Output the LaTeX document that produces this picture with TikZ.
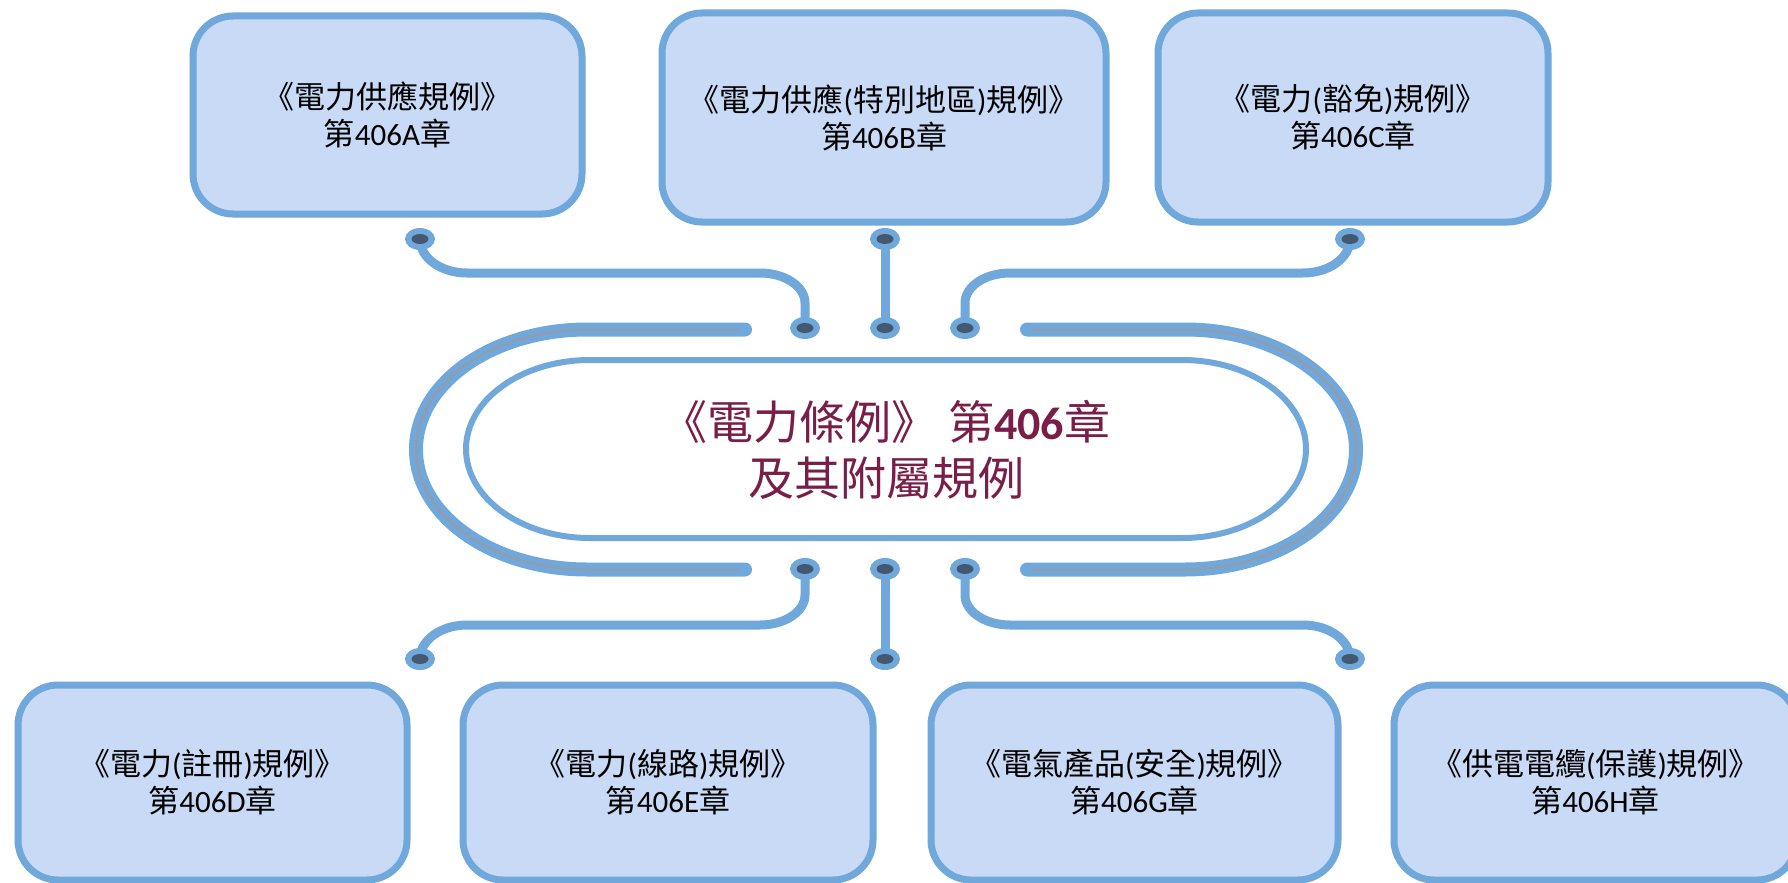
\documentclass[tikz,border=0pt]{standalone}
\usepackage{fontspec}
\setmainfont{Carlito}
\newfontfamily\cjk{Noto Sans CJK TC}
\usetikzlibrary{shapes.geometric}
\definecolor{lineblue}{RGB}{112,168,220}
\definecolor{boxfill}{RGB}{201,218,246}
\definecolor{dotdark}{RGB}{68,88,112}
\definecolor{bandgray}{RGB}{150,155,165}
\definecolor{maroontext}{RGB}{120,30,72}
\newcommand\zh[1]{{\cjk #1}}
\begin{document}
\begin{tikzpicture}[x=1pt,y=-1pt,
  regbox/.style={draw=lineblue, line width=7pt, fill=boxfill, rounded corners=40pt,
    align=center, font=\fontsize{31}{37}\selectfont, text=black, inner sep=0pt},
  wire/.style={draw=lineblue, line width=9pt},
  dotnode/.style={ellipse, fill=lineblue, minimum width=30pt, minimum height=22pt, inner sep=0pt,
    path picture={\fill[dotdark] (path picture bounding box.center) ellipse (8.5pt and 5pt);}},
  band/.style={draw=lineblue, line width=14pt, line cap=round},
  bandline/.style={draw=bandgray, line width=2pt},
  hub/.style={draw=lineblue, line width=6pt, fill=white},
]
\useasboundingbox (0,0) rectangle (1788,883);
\clip (0,0) rectangle (1788,883);

% regulation boxes
\node[regbox, minimum width=389pt, minimum height=198pt] (A) at (387.5,115) {\zh{《電力供應規例》}\\\zh{第}406A\zh{章}};
\node[regbox, minimum width=444pt, minimum height=209pt] (B) at (884,117.5) {\zh{《電力供應}(\zh{特別地區})\zh{規例》}\\\zh{第}406B\zh{章}};
\node[regbox, minimum width=390pt, minimum height=209pt] (C) at (1353,117.5) {\zh{《電力}(\zh{豁免})\zh{規例》}\\\zh{第}406C\zh{章}};
\node[regbox, minimum width=389pt, minimum height=195pt] (D) at (212.5,782.5) {\zh{《電力}(\zh{註冊})\zh{規例》}\\\zh{第}406D\zh{章}};
\node[regbox, minimum width=410pt, minimum height=195pt] (E) at (668,782.5) {\zh{《電力}(\zh{線路})\zh{規例》}\\\zh{第}406E\zh{章}};
\node[regbox, minimum width=407pt, minimum height=195pt] (G) at (1134.5,782.5) {\zh{《電氣產品}(\zh{安全})\zh{規例》}\\\zh{第}406G\zh{章}};
\node[regbox, minimum width=403pt, minimum height=195pt] (H) at (1595.5,782.5) {\zh{《供電電纜}(\zh{保護})\zh{規例》}\\\zh{第}406H\zh{章}};

% outer bands
\draw[band] (745,329.5) -- (587,329.5) arc[start angle=-90, end angle=-270, x radius=171, y radius=120] -- (745,569.5);
\draw[band] (1027,329.5) -- (1185,329.5) arc[start angle=-90, end angle=90, x radius=171, y radius=120] -- (1027,569.5);
\draw[bandline] (740,329.5) -- (587,329.5) arc[start angle=-90, end angle=-270, x radius=171, y radius=120] -- (740,569.5);
\draw[bandline] (1032,329.5) -- (1185,329.5) arc[start angle=-90, end angle=90, x radius=171, y radius=120] -- (1032,569.5);

% hub
\draw[hub] (590,360) -- (1182,360) arc[start angle=-90, end angle=90, x radius=124, y radius=89]
  -- (590,538) arc[start angle=90, end angle=270, x radius=124, y radius=89] -- cycle;
\node[font=\fontsize{46}{56}\selectfont, text=maroontext, align=center] (hubtext) at (886,450)
  {\zh{《電力條例》} \zh{第}\textbf{406}\zh{章}\\\zh{及其附屬規例}};

% dot positions
\coordinate (tA) at (420,239);
\coordinate (tB) at (885,239);
\coordinate (tC) at (1350,239);
\coordinate (hA) at (805,328);
\coordinate (hB) at (885,328);
\coordinate (hC) at (965,328);
\coordinate (hD) at (805,569);
\coordinate (hE) at (885,569);
\coordinate (hG) at (965,569);
\coordinate (bD) at (420,659);
\coordinate (bE) at (885,659);
\coordinate (bG) at (1350,659);

% connectors
\draw[wire] (tA) .. controls (420,258) and (441,273) .. (467,273) -- (760,273)
  .. controls (785,273) and (805,286.5) .. (805,303) -- (hA);
\draw[wire] (tB) -- (hB);
\draw[wire] (tC) .. controls (1350,258) and (1329,273) .. (1303,273) -- (1010,273)
  .. controls (985,273) and (965,286.5) .. (965,303) -- (hC);
\draw[wire] (hD) -- (805,595) .. controls (805,611.5) and (785,625) .. (760,625) -- (467,625)
  .. controls (441,625) and (420,640) .. (bD);
\draw[wire] (hE) -- (bE);
\draw[wire] (hG) -- (965,595) .. controls (965,611.5) and (985,625) .. (1010,625) -- (1303,625)
  .. controls (1329,625) and (1350,640) .. (bG);

% dots
\foreach \p in {tA,tB,tC,hA,hB,hC,hD,hE,hG,bD,bE,bG}
  \node[dotnode] (dot\p) at (\p) {};
\end{tikzpicture}
\end{document}
